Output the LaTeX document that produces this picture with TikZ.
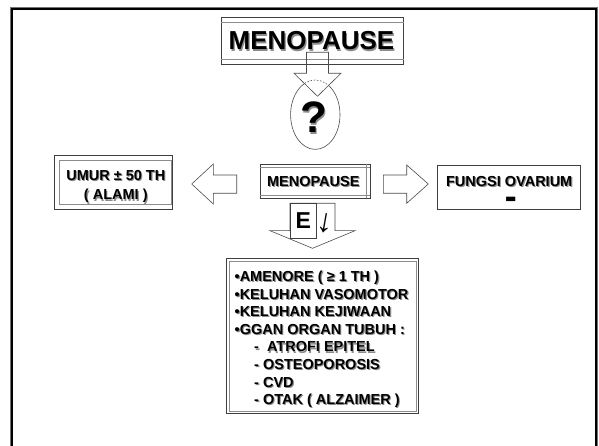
\documentclass[tikz,border=0pt]{standalone}
\usepackage{fontspec}
\setmainfont{Liberation Sans}
\newfontfamily\dvfont{DejaVu Sans}
\usetikzlibrary{calc}
\tikzset{
  outerln/.style={draw=black!75, line width=0.6pt},
  innerln/.style={draw=black!45, line width=0.5pt},
  blk/.style={draw=black!70, line width=0.6pt, line join=miter},
  txt/.style={inner sep=0pt, font=\bfseries\fontsize{14.5}{16}\selectfont},
  boxnode/.style={outerln, inner sep=0pt, fill=none},
}
\newcommand\shnode[4]{%
  \node[txt,#3,text=black!45] at ($(#2)+(1.1,1.1)$) {#4};
  \node[txt,#3] (#1) at (#2) {#4};
}
\begin{document}
\begin{tikzpicture}[x=1pt,y=-1pt]
\useasboundingbox (0,0) rectangle (599,446);
\fill[white] (0,0) rectangle (599,446);
% frame
\draw[black!55, line width=1pt] (10.3,450) -- (10.3,7.3) -- (597.7,7.3) -- (597.7,450);
\draw[black, line width=2pt] (12,450) -- (12,9) -- (596.3,9) -- (596.3,450);

% top box
\node[boxnode, minimum width=181.6pt, minimum height=47pt] (topbox) at (312.5,40.5) {};
\draw[innerln] ($(topbox.north west)+(0,5.3)$) -- ($(topbox.north east)+(0,5.3)$);
\draw[innerln] ($(topbox.south west)+(0,-5.3)$) -- ($(topbox.south east)+(0,-5.3)$);
\shnode{toptxt}{311.5,50}{anchor=base,font=\bfseries\fontsize{26}{28}\selectfont}{MENOPAUSE}

% question ellipse
\draw[black!70, line width=0.6pt] (315.3,114.7) ellipse [x radius=24.7, y radius=34.7];
\node[inner sep=0pt, minimum width=49.4pt, minimum height=69.4pt] (q) at (315.3,114.7) {};
\shnode{qtxt}{314,133}{anchor=base,font=\bfseries\fontsize{44}{46}\selectfont}{?}

% arrow top box -> ellipse
\begin{scope}
  \clip (294,73.3) -- (317.5,96.3) -- (341,73.3) -- cycle;
  \draw[white, line width=1.2pt, dash pattern=on 1.6pt off 1.6pt] (315.3,114.7) ellipse [x radius=24.7, y radius=34.7];
\end{scope}
\draw[blk] (306.5,52.3) -- (306.5,73.3) -- (294,73.3) -- (317.5,96.3) -- (341,73.3) -- (328.5,73.3) -- (328.5,52.3) -- cycle;

% left box
\node[boxnode, minimum width=118.4pt, minimum height=54pt] (leftbox) at (113.5,182) {};
\draw[innerln] (59.3,160) rectangle (171.7,204);
\shnode{umura}{115.8,180.7}{anchor=base}{UMUR ± 50 TH}
\shnode{umurb}{115.8,200}{anchor=base}{( ALAMI )}

% middle box
\node[boxnode, minimum width=110pt, minimum height=34.3pt] (midbox) at (315,181.2) {};
\draw[innerln] (260,167.3) -- (370,167.3);
\draw[innerln] (260,195) -- (370,195);
\draw[innerln] (366.7,164) -- (366.7,198.3);
\shnode{midtxt}{313.3,186.7}{anchor=base}{MENOPAUSE}

% right box
\node[boxnode, minimum width=143pt, minimum height=44pt] (rightbox) at (509.2,187) {};
\shnode{fungsi}{509.2,186.7}{anchor=base}{FUNGSI OVARIUM}
\node[inner sep=0pt, font=\dvfont\fontsize{12}{14}\selectfont] (bar) at (510.8,199.5) {▬};

% left arrow (middle -> left)
\draw[blk] (236.7,175) -- (213.3,175) -- (213.3,164) -- (191.7,184) -- (213.3,204) -- (213.3,193.3) -- (236.7,193.3) -- cycle;
% right arrow (middle -> right)
\draw[blk] (383.3,175) -- (406.7,175) -- (406.7,165) -- (428.3,184) -- (406.7,203.3) -- (406.7,193.3) -- (383.3,193.3) -- cycle;

% E arrow (middle -> list)
\draw[blk] (290,203.3) -- (290,230.7) -- (270,230.7) -- (312.5,248.3) -- (355,230.7) -- (335,230.7) -- (335,203.3) -- cycle;
\draw[outerln, fill=white] (290,203.3) rectangle (316.7,238.3);
\node[inner sep=0pt, minimum width=26.7pt, minimum height=35pt] (ebox) at (303.35,220.8) {};
\node[txt, anchor=base, font=\bfseries\fontsize{23}{25}\selectfont] (etxt) at (303.3,228.3) {E};
\node[inner sep=0pt, rotate=-10, font=\bfseries\fontsize{33}{35}\selectfont] (darr) at (324.8,223) {\makebox[5pt]{↓}};

% list box
\node[boxnode, minimum width=191.6pt, minimum height=155.2pt] (listbox) at (322.5,335.9) {};
\draw[innerln] (229.3,260.8) rectangle (416,411.2);
\shnode{la}{234.5,281.5}{anchor=base west}{•AMENORE ( ≥ 1 TH )}
\shnode{lb}{234.5,299.1}{anchor=base west}{•KELUHAN VASOMOTOR}
\shnode{lc}{234.5,316.7}{anchor=base west}{•KELUHAN KEJIWAAN}
\shnode{ld}{234.5,334.3}{anchor=base west}{•GGAN ORGAN TUBUH :}
\shnode{le}{254,351.9}{anchor=base west}{-\ \ ATROFI EPITEL}
\shnode{lf}{254,369.5}{anchor=base west}{- OSTEOPOROSIS}
\shnode{lg}{254,387.1}{anchor=base west}{- CVD}
\shnode{lh}{254,404.7}{anchor=base west}{- OTAK ( ALZAIMER )}
\end{tikzpicture}
\end{document}
